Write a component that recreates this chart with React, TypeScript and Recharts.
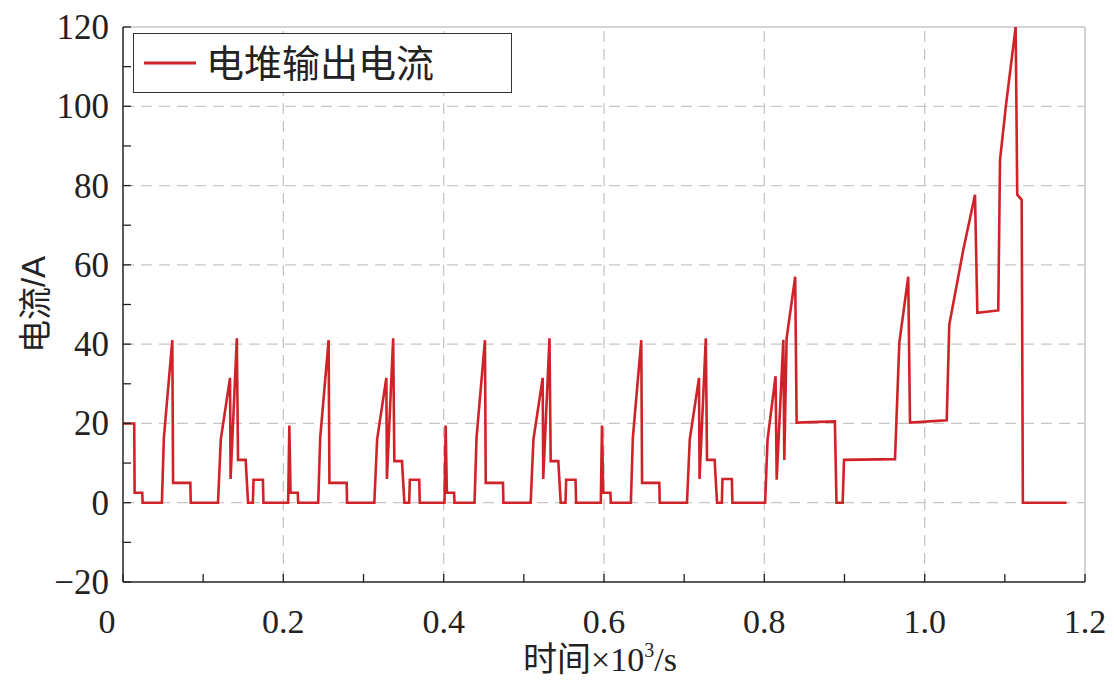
import { LineChart, Line, XAxis, YAxis, ReferenceLine, Legend } from 'recharts'

// stack current over the driving cycle, time in seconds (axis shows x10^3 s)
const ece1Time = [0, 14, 14.5, 24, 24.5, 48.5, 51, 61.5, 62.5, 84, 84.5, 118.5, 122, 133.5, 134.2, 142, 143.5, 153, 156, 162, 162.8, 174.5, 175.2]
const ece1Current = [20, 20, 2.5, 2.5, 0, 0, 16.4, 41, 5, 5, 0, 0, 16, 31.5, 6, 41.5, 10.8, 10.8, 0, 0, 5.8, 5.8, 0]

const ece2Time = [206, 207.5, 209, 218, 218.5, 243.5, 246, 256.5, 257.5, 279, 279.5, 313.5, 317, 328.5, 329.2, 337, 338.5, 348, 351, 357, 357.8, 369.5, 370.2]
const ece2Current = [0, 19.5, 2.5, 2.5, 0, 0, 16.4, 41, 5, 5, 0, 0, 16, 31.5, 6, 41.5, 10.5, 10.5, 0, 0, 5.8, 5.8, 0]

const ece3Time = [401, 402.5, 404, 413, 413.5, 438.5, 441, 451.5, 452.5, 474, 474.5, 508.5, 512, 523.5, 524.2, 532, 533.5, 543, 546, 552, 552.8, 564.5, 565.2]
const ece3Current = [0, 19.5, 2.5, 2.5, 0, 0, 16.4, 41, 5, 5, 0, 0, 16, 31.5, 6, 41.5, 10.5, 10.5, 0, 0, 5.8, 5.8, 0]

const ece4Time = [596, 597.5, 599, 608, 608.5, 633.5, 636, 646.5, 647.5, 669, 669.5, 703.5, 707, 718.5, 719.2, 727, 728.5, 738, 741, 747, 747.8, 759.5, 760.2]
const ece4Current = [0, 19.5, 2.5, 2.5, 0, 0, 16.4, 41, 5, 5, 0, 0, 16, 31.5, 6, 41.5, 10.8, 10.8, 0, 0, 6, 6, 0]

const eudcTime = [801, 804, 814, 815.4, 823.7, 824.9, 827.8, 838.5, 840.3, 888, 890, 897.7, 899.4, 963, 968.4, 979.5, 981.7, 1027.5, 1030.7, 1048.2, 1062.8, 1065.7, 1091.8, 1094, 1101.5, 1113.5, 1115.5, 1121, 1122.5, 1177]
const eudcCurrent = [0, 15.9, 31.9, 5.8, 41.1, 10.8, 41.5, 57, 20.2, 20.5, 0, 0, 10.8, 11, 40.4, 57, 20.2, 20.8, 44.9, 63.8, 77.7, 47.9, 48.5, 86.5, 100.4, 120, 77.7, 76.4, 0, 0]

const X_TICKS = [0, 0.1, 0.2, 0.3, 0.4, 0.5, 0.6, 0.7, 0.8, 0.9, 1.0, 1.1, 1.2]
const X_TICK_LABELS = ['0', '', '0.2', '', '0.4', '', '0.6', '', '0.8', '', '1.0', '', '1.2']
const X_GRID = [0.2, 0.4, 0.6, 0.8, 1.0]

const Y_TICKS = [-20, -10, 0, 10, 20, 30, 40, 50, 60, 70, 80, 90, 100, 110, 120]
const Y_TICK_LABELS = ['−20', '', '0', '', '20', '', '40', '', '60', '', '80', '', '100', '', '120']
const Y_GRID = [0, 20, 40, 60, 80, 100]

const SERIES_NAME = '电堆输出电流'
const LINE_COLOR = '#cf2329'
const AXIS_COLOR = '#222'
const GRID_COLOR = '#c6c6c6'
const SERIF = '"Liberation Serif", "Times New Roman", serif'
const CJK = '"Noto Sans CJK SC", sans-serif'

const segments = [
  [ece1Time, ece1Current],
  [ece2Time, ece2Current],
  [ece3Time, ece3Current],
  [ece4Time, ece4Current],
  [eudcTime, eudcCurrent],
]

const data = segments.flatMap(([times, values]) =>
  times.map((s, i) => ({ t: s / 1000, current: values[i] })),
)

function XTick({ x, y, index }: any) {
  const label = X_TICK_LABELS[index]
  return (
    <g>
      <line x1={x} y1={y} x2={x} y2={y - 8} stroke={AXIS_COLOR} strokeWidth={1.3} />
      {label && (
        <text x={x + (index === 0 ? -16 : 0)} y={y + 51} textAnchor="middle"
          fontFamily={SERIF} fontSize={34} fill={AXIS_COLOR}>
          {label}
        </text>
      )}
    </g>
  )
}

function YTick({ x, y, index }: any) {
  const label = Y_TICK_LABELS[index]
  return (
    <g>
      <line x1={x} y1={y} x2={x + 8} y2={y} stroke={AXIS_COLOR} strokeWidth={1.3} />
      {label && (
        <text x={x - 14} y={y + 12} textAnchor="end"
          fontFamily={SERIF} fontSize={35} fill={AXIS_COLOR}>
          {label}
        </text>
      )}
    </g>
  )
}

function YTitle({ viewBox }: any) {
  if (!viewBox) return null
  const cx = viewBox.x + 10
  const cy = viewBox.y + viewBox.height / 2
  return (
    <text x={cx} y={cy} transform={`rotate(-90, ${cx}, ${cy})`} textAnchor="middle"
      dominantBaseline="central" fontSize={33} fill={AXIS_COLOR}>
      <tspan fontFamily={CJK}>电流</tspan>
      <tspan fontFamily='"Liberation Sans", sans-serif'>/A</tspan>
    </text>
  )
}

function XTitle({ viewBox }: any) {
  if (!viewBox) return null
  const cx = viewBox.x + viewBox.width / 2 - 4
  return (
    <text x={cx} y={viewBox.y + 89} textAnchor="middle" fontSize={34} fill={AXIS_COLOR}>
      <tspan fontFamily={CJK}>时间</tspan>
      <tspan fontFamily={SERIF}>×10</tspan>
      <tspan fontFamily={SERIF} fontSize={20} dy={-14}>3</tspan>
      <tspan fontFamily={SERIF} dy={14}>/s</tspan>
    </text>
  )
}

function LegendBox() {
  return (
    <div style={{
      boxSizing: 'border-box', width: 379, height: 60, border: '1.5px solid #333',
      background: '#fff', display: 'flex', alignItems: 'center', paddingLeft: 10,
    }}>
      <svg width={52} height={8}>
        <line x1={0} y1={4} x2={52} y2={4} stroke={LINE_COLOR} strokeWidth={3} />
      </svg>
      <span style={{ marginLeft: 10, fontFamily: CJK, fontSize: 38, color: AXIS_COLOR, lineHeight: 1, marginTop: -4 }}>
        {SERIES_NAME}
      </span>
    </div>
  )
}

export default function App() {
  return (
    <div style={{ position: 'absolute', left: 0, top: 0, background: '#fff' }}>
      <LineChart width={1114} height={684} data={data}
        margin={{ top: 27, right: 29, bottom: 62, left: 23 }}>
        {Y_GRID.map(v => (
          <ReferenceLine key={`gy${v}`} y={v} stroke={GRID_COLOR} strokeWidth={1.3} strokeDasharray="11 7" />
        ))}
        {X_GRID.map(v => (
          <ReferenceLine key={`gx${v}`} x={v} stroke={GRID_COLOR} strokeWidth={1.3} strokeDasharray="11 7" />
        ))}
        <ReferenceLine y={120} stroke={GRID_COLOR} strokeWidth={1.5} />
        <ReferenceLine x={1.2} stroke={GRID_COLOR} strokeWidth={1.5} />
        <XAxis dataKey="t" type="number" domain={[0, 1.2]} ticks={X_TICKS} interval={0}
          height={40} tickSize={0} tickMargin={0} tickLine={false} tick={<XTick />}
          axisLine={{ stroke: AXIS_COLOR, strokeWidth: 1.5 }} allowDataOverflow
          label={<XTitle />} />
        <YAxis type="number" domain={[-20, 120]} ticks={Y_TICKS} interval={0}
          width={100} tickSize={0} tickMargin={0} tickLine={false} tick={<YTick />}
          axisLine={{ stroke: AXIS_COLOR, strokeWidth: 1.5 }} allowDataOverflow
          label={<YTitle />} />
        <Legend layout="vertical" align="center" verticalAlign="middle"
          wrapperStyle={{ top: 33, left: 133, width: 379, height: 60 }}
          content={() => <LegendBox />} />
        <Line type="linear" dataKey="current" name={SERIES_NAME} stroke={LINE_COLOR}
          strokeWidth={2.6} dot={false} isAnimationActive={false} />
      </LineChart>
    </div>
  )
}
